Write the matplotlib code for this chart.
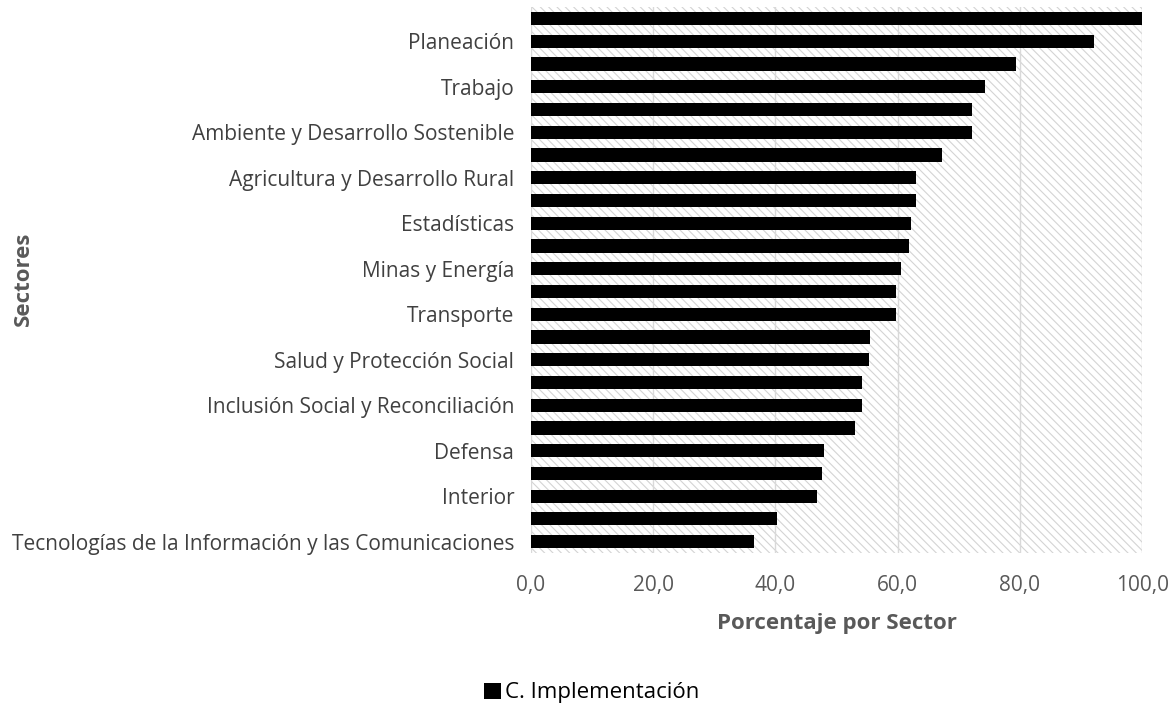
import matplotlib
matplotlib.use("Agg")
import matplotlib.pyplot as plt
from matplotlib.patches import Rectangle, Patch

# top to bottom, as in the picture (only every other sector has a visible label)
sectores = [
    "", "Planeación", "", "Trabajo", "", "Ambiente y Desarrollo Sostenible",
    "", "Agricultura y Desarrollo Rural", "", "Estadísticas", "", "Minas y Energía",
    "", "Transporte", "", "Salud y Protección Social", "", "Inclusión Social y Reconciliación",
    "", "Defensa", "", "Interior", "", "Tecnologías de la Información y las Comunicaciones",
]
implementacion = [
    100.0, 92.2, 79.3, 74.3, 72.2, 72.2, 67.2, 63.0, 63.0, 62.2, 61.8, 60.5,
    59.7, 59.7, 55.5, 55.3, 54.2, 54.2, 53.0, 48.0, 47.6, 46.8, 40.3, 36.5,
]
xticks = [0, 20, 40, 60, 80, 100]
xticklabels = ["0,0", "20,0", "40,0", "60,0", "80,0", "100,0"]

plt.rcParams["font.family"] = ["Open Sans", "DejaVu Sans"]
plt.rcParams["hatch.linewidth"] = 0.8

fig = plt.figure(figsize=(11.74, 7.10), dpi=100)
ax = fig.add_axes([0.4523, 0.2211, 0.5205, 0.7689])

# hatched plot area background
ax.add_patch(Rectangle((0, 0), 1, 1, transform=ax.transAxes, facecolor="white",
                       edgecolor="#d4d4d4", hatch="\\\\\\\\", linewidth=0, zorder=0))

n = len(implementacion)
ypos = list(range(n))
ax.barh(ypos, implementacion, height=0.58, color="black", zorder=3,
        label="C. Implementación")

ax.set_xlim(0, 100)
ax.set_ylim(n - 0.5, -0.5)
ax.set_xticks(xticks)
ax.set_xticklabels(xticklabels, color="#595959", fontsize=15)
ax.set_yticks(ypos)
ax.set_yticklabels(sectores, color="#404040", fontsize=15)
ax.tick_params(length=0)
ax.tick_params(axis="x", pad=16)
ax.tick_params(axis="y", pad=12)

for x in xticks[1:]:
    ax.axvline(x, color="#d9d9d9", linewidth=1, zorder=1)
for s in ax.spines.values():
    s.set_visible(False)
ax.axvline(0, color="#d9d9d9", linewidth=1, zorder=1)

ax.set_xlabel("Porcentaje por Sector", fontsize=16, fontweight="bold",
              color="#595959", labelpad=12)
fig.text(0.02, 0.607, "Sectores", rotation=90, fontsize=16, fontweight="bold",
         color="#595959", ha="center", va="center")

fig.legend(handles=[Patch(facecolor="black", label="C. Implementación")],
           loc="center", bbox_to_anchor=(0.504, 0.024), frameon=False,
           fontsize=16, handlelength=0.75, handleheight=0.75, handletextpad=0.2,
           labelcolor="#000000")

fig.savefig("out.png", dpi=100)
